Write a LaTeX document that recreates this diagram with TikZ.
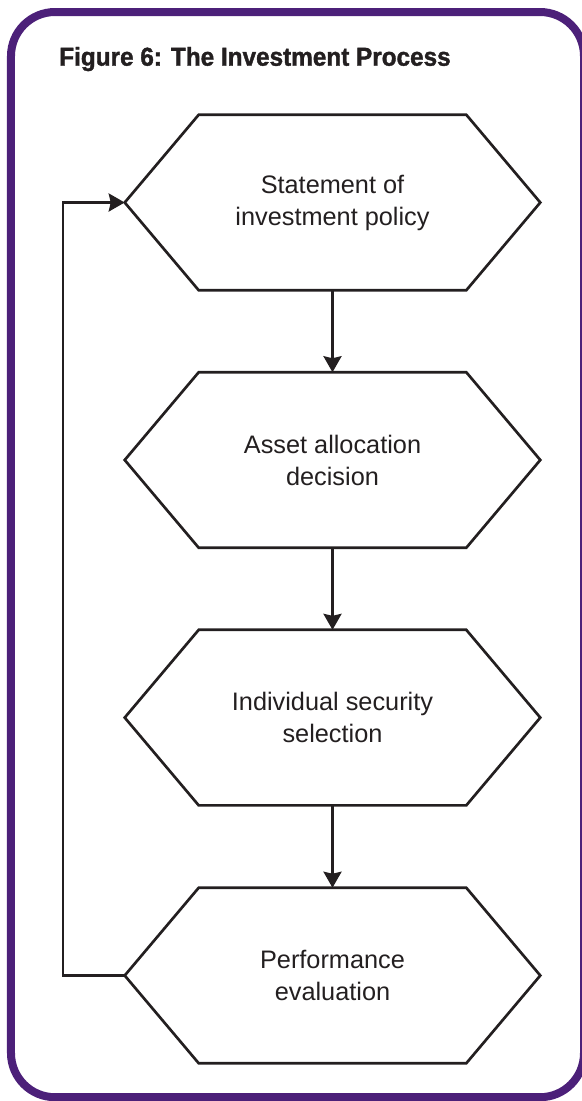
\documentclass[tikz,border=0pt]{standalone}
\usepackage{fontspec}
\setmainfont{Liberation Sans}
\newfontfamily\titlefont[FakeBold=1.4,FakeStretch=0.94]{Liberation Sans Bold}
\usepackage{xcolor}
\usepackage{tikz}
\usetikzlibrary{arrows.meta,positioning}
\definecolor{framepurple}{RGB}{76,32,121}
\definecolor{inkgrey}{RGB}{35,31,32}

\begin{document}
\begin{tikzpicture}[
    hexbox/.style={rectangle, minimum width=10.375cm, minimum height=4.375cm,
        inner sep=0pt, align=center, text=inkgrey,
        font=\fontsize{18pt}{22.8pt}\selectfont},
    hexline/.style={draw=inkgrey, line width=1.9pt, line join=miter},
    arrow/.style={-{Stealth[length=0.4cm,width=0.45cm,inset=0.05cm]},
        draw=inkgrey, line width=1.9pt}
]
\useasboundingbox (0,0) rectangle (14.55,-27.525);
\draw[framepurple, line width=0.2cm, rounded corners=1.1cm]
    (0.275,-0.3) rectangle (14.6,-27.43);

\node[anchor=base west, inner sep=0pt, text=inkgrey,
    font=\titlefont\fontsize{18.4pt}{20pt}\selectfont] (title) at (1.475,-1.642)
    {Figure 6: The Investment Process};

\node[hexbox] (policy) at (8.3125,-5.0625) {Statement of\\investment policy};
\node[hexbox] (alloc) at (8.3125,-11.5) {Asset allocation\\decision};
\node[hexbox] (select) at (8.3125,-17.94) {Individual security\\selection};
\node[hexbox] (perf) at (8.3125,-24.3875) {Performance\\evaluation};

% hexagon outlines round each box
\foreach \n in {policy,alloc,select,perf}
    \draw[hexline] (\n.west) -- ([xshift=1.85cm]\n.north west)
        -- ([xshift=-1.85cm]\n.north east) -- (\n.east)
        -- ([xshift=-1.85cm]\n.south east) -- ([xshift=1.85cm]\n.south west)
        -- cycle;

\draw[arrow] (policy) -- (alloc);
\draw[arrow] (alloc) -- (select);
\draw[arrow] (select) -- (perf);
\coordinate (loop) at (1.575,0);
\draw[arrow] (perf.west) -| (loop |- perf.west) |- (policy.west);
\end{tikzpicture}
\end{document}
